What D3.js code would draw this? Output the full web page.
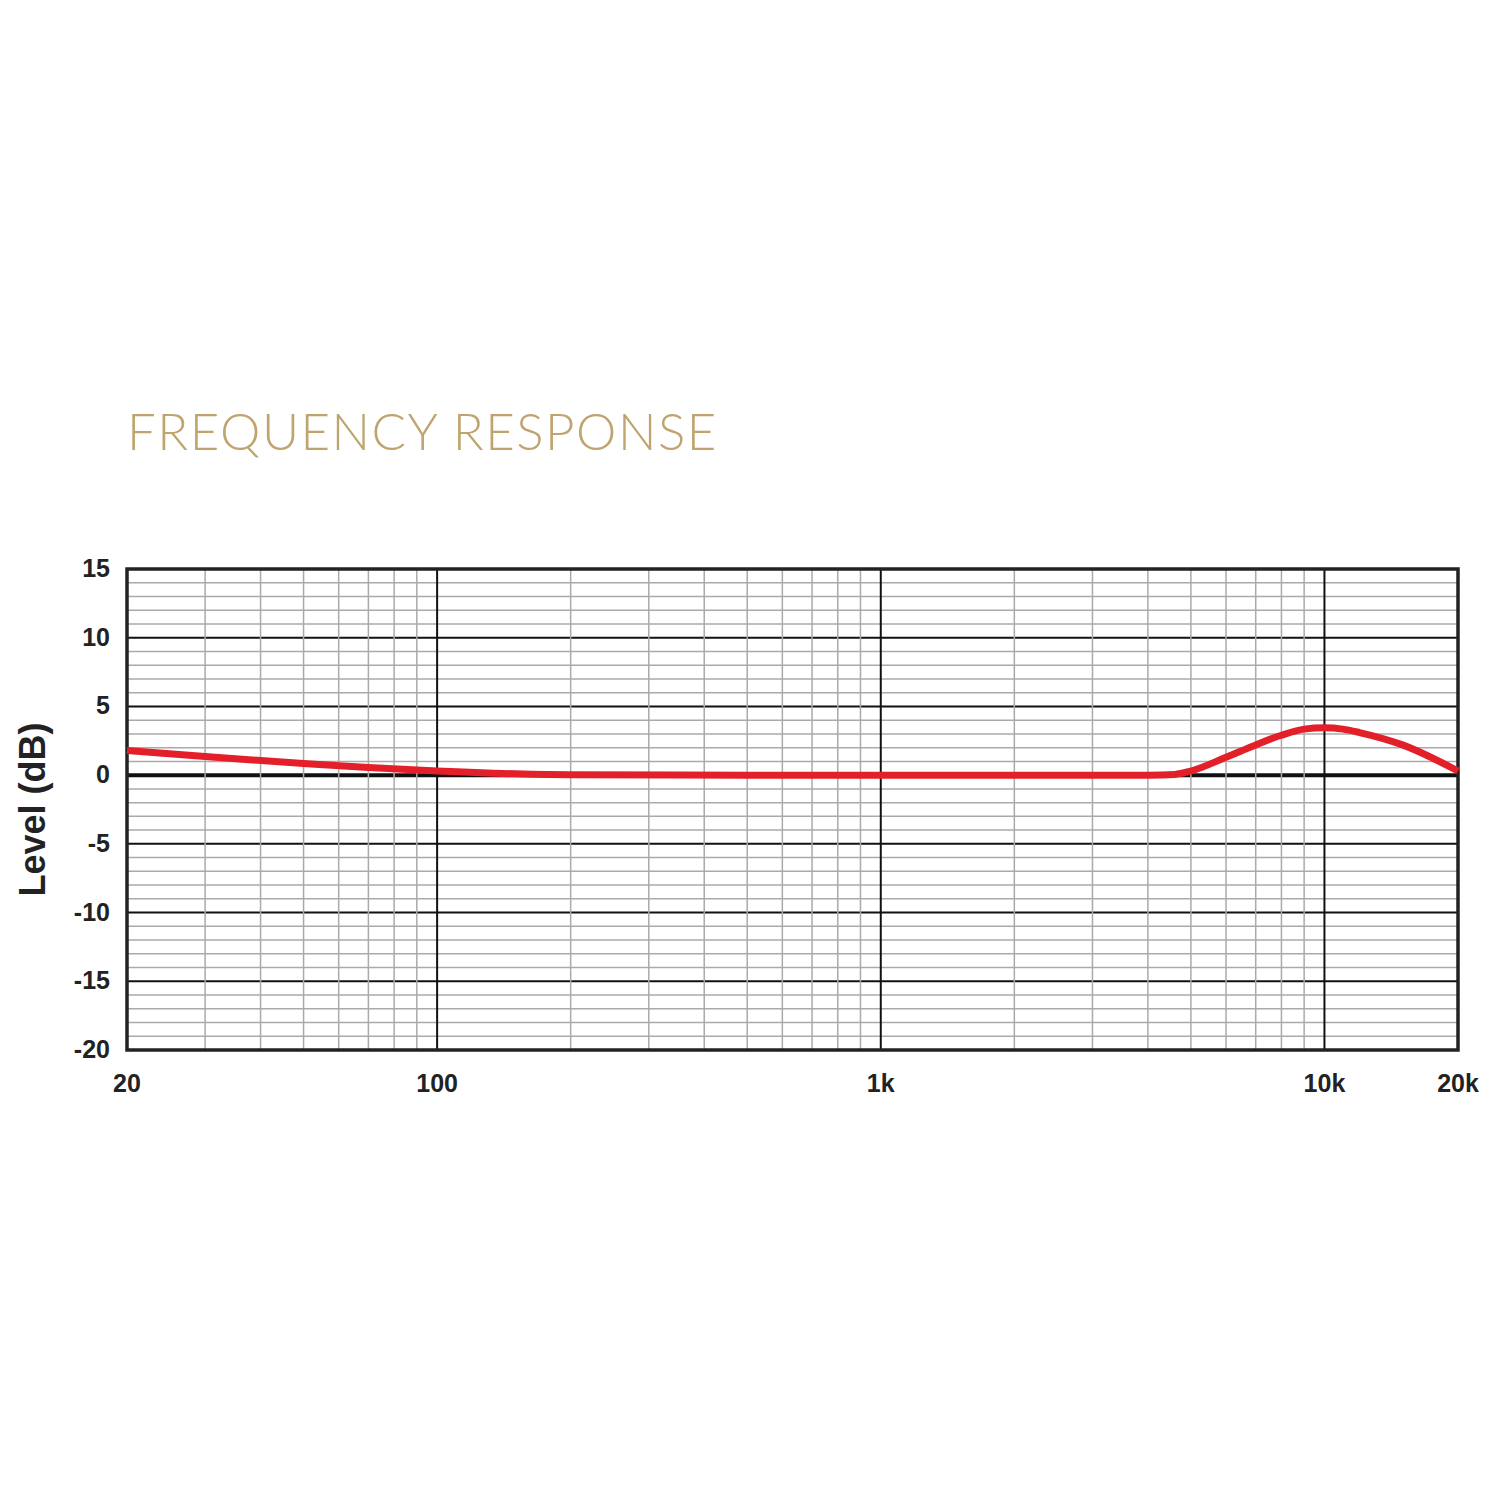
<!DOCTYPE html>
<html>
<head>
<meta charset="utf-8">
<script src="https://cdn.jsdelivr.net/npm/d3@7"></script>
<style>body{margin:0;background:#fff}</style>
</head>
<body>
<div id="chart"></div>
<script>
const freqs = [20, 30, 50, 70, 100, 150, 200, 500, 1000, 2000, 4000, 4600, 5000, 6000, 7000, 8000, 9000, 10000, 11000, 12000, 15000, 20000];
const levels = [1.8, 1.35, 0.85, 0.55, 0.3, 0.1, 0.03, 0, 0, 0, 0, 0.05, 0.3, 1.3, 2.2, 2.9, 3.35, 3.45, 3.35, 3.1, 2.2, 0.3];
const yTicks = [15, 10, 5, 0, -5, -10, -15, -20];
const xTickLabels = [[20, '20'], [100, '100'], [1000, '1k'], [10000, '10k'], [20000, '20k']];

const svg = d3.select('#chart').append('svg').attr('width', 1500).attr('height', 1500);
const x = d3.scaleLog().domain([20, 20000]).range([127, 1458]);
const y = d3.scaleLinear().domain([-20, 15]).range([1050, 569]);

svg.append('text').attr('x', 127).attr('y', 450).text('FREQUENCY RESPONSE')
    .attr('font-family', 'Lato, sans-serif').attr('font-weight', 300).attr('letter-spacing', 1.5)
    .attr('font-size', 51).attr('fill', '#bfa46f');

const g = svg.append('g');
// horizontal lines, 1 dB steps
for (let v = -20; v <= 15; v++) {
    g.append('line').attr('x1', x(20)).attr('x2', x(20000)).attr('y1', y(v)).attr('y2', y(v))
        .attr('stroke', v % 5 === 0 ? '#111' : '#aaa').attr('stroke-width', v === 0 ? 4 : (v % 5 === 0 ? 2 : 1.5));
}
// vertical lines
const vlines = [];
for (let dec = 10; dec <= 10000; dec *= 10)
    for (let m = 1; m <= 9; m++) {
        const f = dec * m;
        if (f > 20 && f < 20000) vlines.push(f);
    }
vlines.forEach(f => {
    const major = [100, 1000, 10000].includes(f);
    g.append('line').attr('x1', x(f)).attr('x2', x(f)).attr('y1', y(15)).attr('y2', y(-20))
        .attr('stroke', major ? '#111' : '#aaa').attr('stroke-width', major ? 2 : 1.5);
});
// frame
g.append('rect').attr('x', x(20)).attr('y', y(15)).attr('width', x(20000) - x(20)).attr('height', y(-20) - y(15))
    .attr('fill', 'none').attr('stroke', '#222').attr('stroke-width', 3.5);

// curve
const line = d3.line().x((d, i) => x(freqs[i])).y(d => y(d)).curve(d3.curveMonotoneX);
g.append('path').datum(levels).attr('d', line).attr('fill', 'none')
    .attr('stroke', '#e3202a').attr('stroke-width', 7);

// labels
yTicks.forEach(v => {
    svg.append('text').attr('x', 110).attr('y', y(v) + 8).attr('text-anchor', 'end').text(v)
        .attr('font-family', 'Liberation Sans, Arial, sans-serif').attr('font-weight', 'bold').attr('font-size', 25).attr('fill', '#222');
});
xTickLabels.forEach(([f, t]) => {
    svg.append('text').attr('x', x(f)).attr('y', 1092).attr('text-anchor', 'middle').text(t)
        .attr('font-family', 'Liberation Sans, Arial, sans-serif').attr('font-weight', 'bold').attr('font-size', 25).attr('fill', '#222');
});
svg.append('text').attr('transform', 'translate(45,' + y(-2.5) + ') rotate(-90)').attr('text-anchor', 'middle')
    .text('Level (dB)').attr('font-family', 'Liberation Sans, Arial, sans-serif').attr('font-weight', 'bold')
    .attr('font-size', 36).attr('fill', '#222');
</script>
</body>
</html>
